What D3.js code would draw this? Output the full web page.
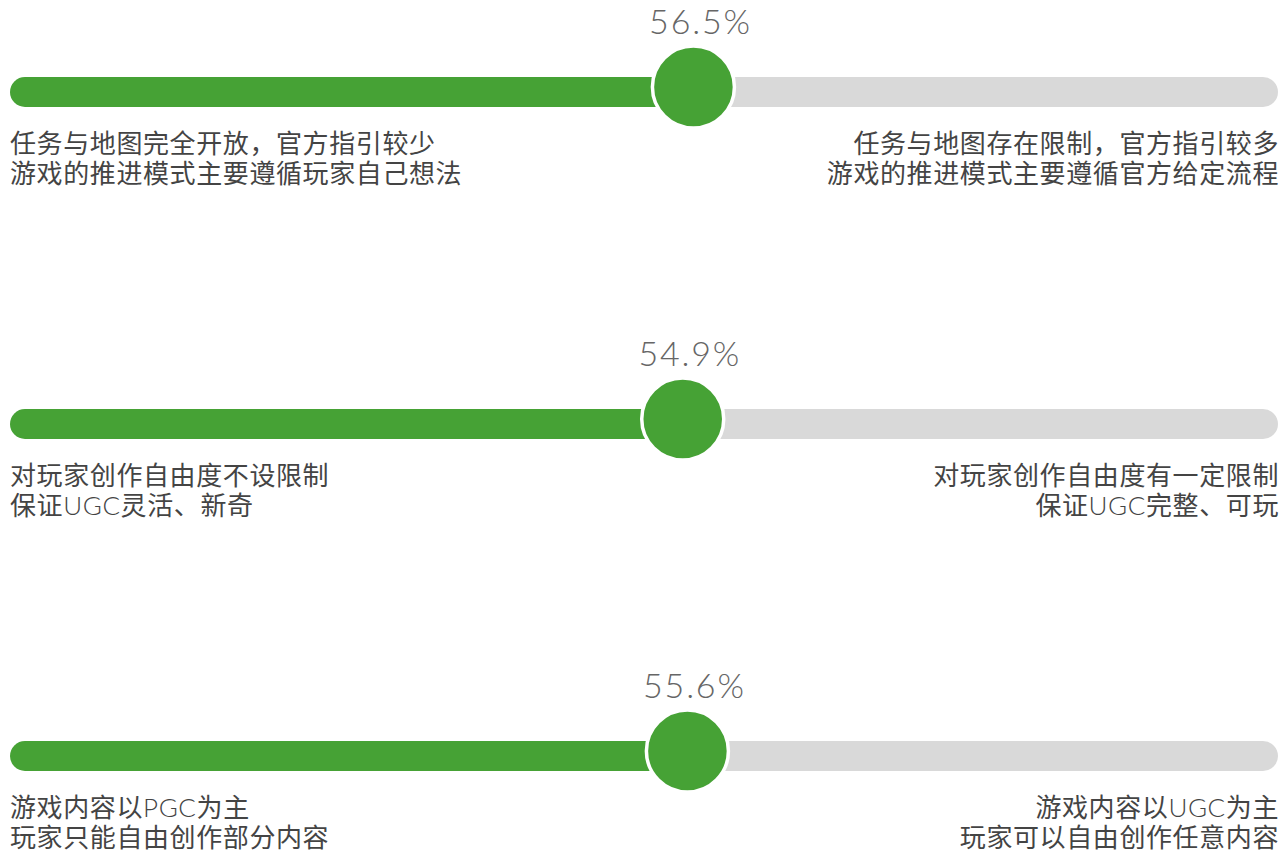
<!DOCTYPE html>
<html>
<head>
<meta charset="utf-8">
<script src="https://cdn.jsdelivr.net/npm/d3@7"></script>
<style>
  body { margin: 0; background: #fff; }
  .pct { font-family: Lato, Roboto, sans-serif; font-weight: 300; fill: #666; font-size: 34px; letter-spacing: 1.8px; }
  .cat { font-family: "Noto Sans CJK SC", sans-serif; fill: #444; font-size: 26px; letter-spacing: 0.6px; }
  .latin { font-family: Lato, sans-serif; font-weight: 300; }
</style>
</head>
<body>
<div class="container"></div>
<script>
const WIDTH = 1279;
const HEIGHT = 852;

// data
const rows = ["开放程度", "创作自由度", "内容来源"];
const values = [56.5, 54.9, 55.6];
const leftLabels = [
  ["任务与地图完全开放，官方指引较少", "游戏的推进模式主要遵循玩家自己想法"],
  ["对玩家创作自由度不设限制", "保证UGC灵活、新奇"],
  ["游戏内容以PGC为主", "玩家只能自由创作部分内容"]
];
const rightLabels = [
  ["任务与地图存在限制，官方指引较多", "游戏的推进模式主要遵循官方给定流程"],
  ["对玩家创作自由度有一定限制", "保证UGC完整、可玩"],
  ["游戏内容以UGC为主", "玩家可以自由创作任意内容"]
];

const GREEN = "#46a235";
const GREY = "#d9d9d9";
const BAR_LEFT = 10;
const BAR_RIGHT = 1278;
const BAR_H = 30;
const R = 41;

var xScale = d3.scaleLinear()
    .domain([0, 100])
    .range([316, 984]);

var yScale = d3.scalePoint()
    .domain(rows)
    .range([92, 756]);

var svg = d3.select('.container').append('svg')
    .attr('width', WIDTH)
    .attr('height', HEIGHT);

var data = rows.map(function(r, i) {
  return { row: r, value: values[i], left: leftLabels[i], right: rightLabels[i] };
});

var g = svg.selectAll('g.row')
    .data(data)
    .enter()
    .append('g')
    .attr('class', 'row')
    .attr('transform', function(d) { return "translate(0," + yScale(d.row) + ")"; });

// grey track (right part)
g.append('rect')
    .attr('x', function(d) { return xScale(d.value) - 20; })
    .attr('y', -BAR_H / 2)
    .attr('width', function(d) { return BAR_RIGHT - xScale(d.value) + 20; })
    .attr('height', BAR_H)
    .attr('rx', BAR_H / 2)
    .attr('fill', GREY);

// green track (left part)
g.append('rect')
    .attr('x', BAR_LEFT)
    .attr('y', -BAR_H / 2)
    .attr('width', function(d) { return xScale(d.value) - BAR_LEFT; })
    .attr('height', BAR_H)
    .attr('rx', BAR_H / 2)
    .attr('fill', GREEN);

// knob
g.append('circle')
    .attr('cx', function(d) { return xScale(d.value); })
    .attr('cy', -5)
    .attr('r', R)
    .attr('fill', GREEN)
    .attr('stroke', '#fff')
    .attr('stroke-width', 3.5);

// value label
g.append('text')
    .attr('class', 'pct')
    .attr('x', function(d) { return xScale(d.value) + 7; })
    .attr('y', -58)
    .attr('text-anchor', 'middle')
    .text(function(d) { return d.value.toFixed(1) + "%"; });

// latin runs get a lighter face, like the original
var addLabel = function(row, t, x, y, anchor) {
  var txt = row.append('text')
      .attr('class', 'cat')
      .attr('x', x)
      .attr('y', y)
      .attr('text-anchor', anchor);
  t.split(/([A-Za-z]+)/).forEach(function(part) {
    if (!part) return;
    txt.append('tspan')
        .classed('latin', /^[A-Za-z]+$/.test(part))
        .text(part);
  });
};

// side labels
g.each(function(d) {
  var row = d3.select(this);
  d.left.forEach(function(t, j) {
    addLabel(row, t, BAR_LEFT, 61 + j * 30, 'start');
  });
  d.right.forEach(function(t, j) {
    addLabel(row, t, WIDTH, 61 + j * 30, 'end');
  });
});
</script>
</body>
</html>
